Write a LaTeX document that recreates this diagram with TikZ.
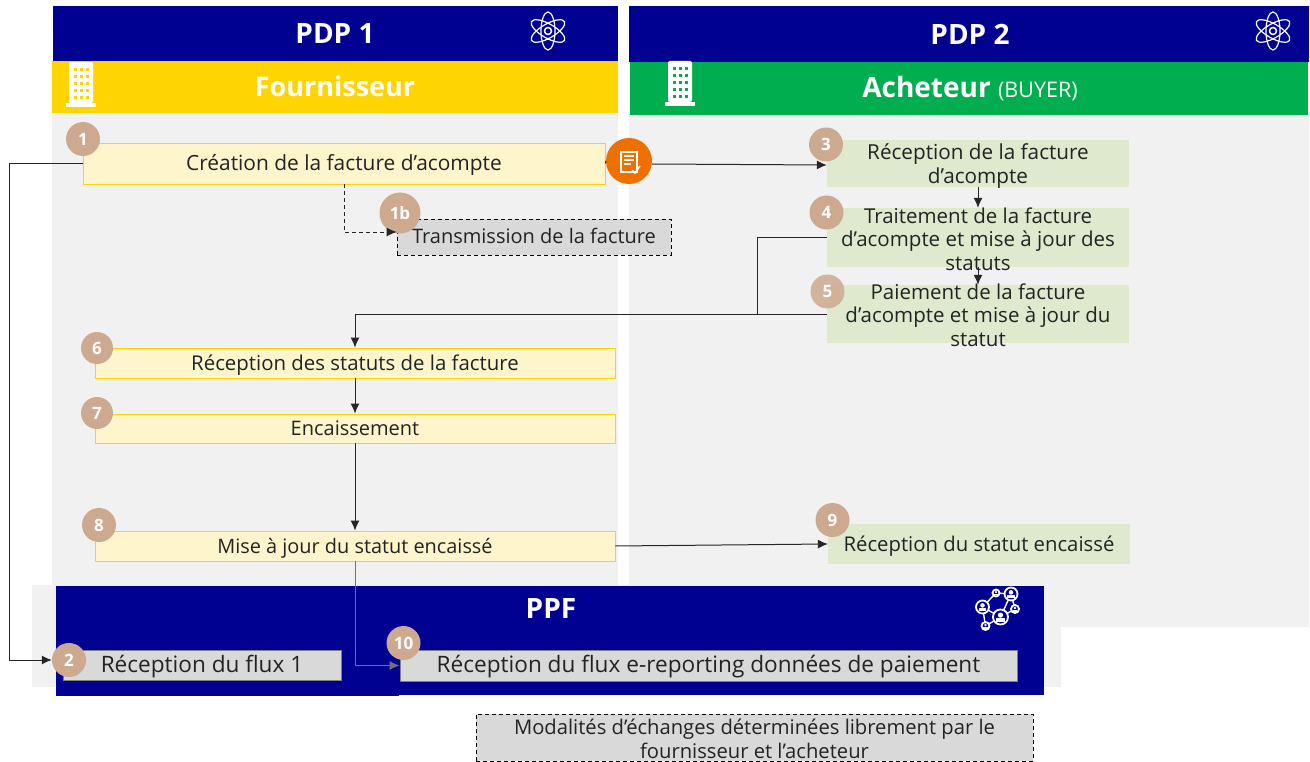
\documentclass[tikz,border=0pt]{standalone}
\usepackage{fontspec}
\setmainfont{Open Sans}
\usetikzlibrary{arrows.meta,positioning,shapes.geometric}
\definecolor{navyband}{RGB}{0,0,145}
\definecolor{yellowband}{RGB}{255,213,0}
\definecolor{greenband}{RGB}{0,174,80}
\definecolor{panelgray}{RGB}{241,241,241}
\definecolor{yellowcell}{RGB}{255,245,204}
\definecolor{greencell}{RGB}{222,233,206}
\definecolor{graycell}{RGB}{217,217,217}
\definecolor{badgetan}{RGB}{205,169,143}
\definecolor{orangeflux}{RGB}{238,113,0}
\definecolor{inktext}{RGB}{35,35,35}
\tikzset{panel/.style={fill=panelgray,draw=none,inner sep=0,anchor=north west},
    band/.style={draw=none,inner sep=0,anchor=north west},
    bandtext/.style={text=white,font=\fontsize{28}{30}\selectfont\bfseries},
    cellsize/.style={font=\fontsize{#1}{23.5}\selectfont},
    celltext/.style={text=inktext,text height=16pt,text depth=2pt},
    yellowbox/.style={draw=yellowband,fill=yellowcell,inner sep=0,line width=0.9pt,celltext},
    greenbox/.style={draw=none,fill=greencell,inner sep=0,celltext},
    graybox/.style={draw=gray,fill=graycell,inner sep=0,line width=0.9pt,celltext},
    dashbox/.style={draw=black,dash pattern=on 4pt off 3pt,fill=graycell,inner sep=0,line width=0.8pt,celltext},
    boxtext/.style={inner sep=0,align=center,text=inktext},
    badge/.style={circle,fill=badgetan,text=white,inner sep=0,minimum size=34pt,font=\fontsize{17}{20}\selectfont\bfseries},
    wire/.style={line width=1pt,draw=black!85},
    link/.style={wire,-{Latex[length=10pt,width=9pt]}},
    atomicon/.pic={
        \draw [white,line width=1.2pt] (0,0) ellipse [x radius=19,y radius=7,rotate=90];
        \draw [white,line width=1.2pt] (0,0) ellipse [x radius=19,y radius=7,rotate=30];
        \draw [white,line width=1.2pt] (0,0) ellipse [x radius=19,y radius=7,rotate=-30];
        \draw [white,line width=1.5pt] (0,0) circle [radius=3.5];},
    netperson/.pic={
        \draw [white,line width=1.8pt,fill=navyband] (0,0) circle [radius=#1];
        \fill [white] (0,-0.25*#1) circle [radius=0.35*#1];
        \fill [white] (-0.6*#1,0.65*#1) rectangle (0.6*#1,0.15*#1);}}
% building icon, the argument is the colour of the windows
\newcommand{\buildingicon}[2]{
\begin{scope}[shift={(#1)}]
\fill [white,rounded corners=2pt] (3,0) -- (27,0) -- (27,41) -- (3,41) -- cycle;
\fill [white] (0,41) rectangle (30,45);
\draw [#2,line width=3pt,dash pattern=on 3pt off 4pt] (9,6) -- (9,40);
\draw [#2,line width=3pt,dash pattern=on 3pt off 4pt] (15,6) -- (15,40);
\draw [#2,line width=3pt,dash pattern=on 3pt off 4pt] (21,6) -- (21,40);
\end{scope}}

\begin{document}
\begin{tikzpicture}[x=1pt,y=-1pt]
\useasboundingbox (0,0) rectangle (1310,762);

% gray backgrounds
\node [panel,minimum width=566pt,minimum height=472pt] (leftpanel) at (52,113) {};
\node [panel,minimum width=680pt,minimum height=512pt] (rightpanel) at (629,115) {};
\node [panel,minimum width=1029pt,minimum height=102pt] (lowpanel) at (32,585) {};

% bands
\node [band,fill=navyband,minimum width=565pt,minimum height=55pt] (pdpA) at (53,6) {};
\node [band,fill=navyband,minimum width=680pt,minimum height=56pt] (pdpB) at (629,6) {};
\node [band,fill=yellowband,minimum width=566pt,minimum height=52pt] (fourn) at (52,61) {};
\node [band,fill=greenband,minimum width=678pt,minimum height=53pt] (achet) at (630,62) {};
\node [band,fill=navyband,minimum width=988pt,minimum height=109pt] (ppf) at (56,586) {};
\node [band,fill=navyband,minimum width=343pt,minimum height=110pt] (ppfleft) at (56,586) {};

\node [bandtext] (pdpAtext) at (335,34) {PDP 1};
\node [bandtext] (pdpBtext) at (970,34) {PDP 2};
\node [bandtext] (fourntext) at (335,86) {\fontsize{27}{30}\selectfont Fournisseur};
\node [bandtext] (achettext) at (970,89) {Acheteur {\fontsize{21.5}{24}\selectfont\mdseries (BUYER)}};
\node [bandtext] (ppftext) at (551,609) {PPF};

% icons
\pic at (548,31) {atomicon};
\pic at (1273,31) {atomicon};
\buildingicon{66,62}{yellowband}
\buildingicon{665,61}{greenband}
\draw [white,line width=1.4pt] (982.5,607) -- (996,593) -- (1011,594) -- (1015,609) -- (1000.5,617) -- (982.5,607) -- (985.5,626) -- (1000.5,617) -- (1011,594);
\pic at (982.5,607) {netperson=6.5};
\pic at (1011,594) {netperson=6.5};
\pic at (1000.5,617) {netperson=7.5};
\pic at (996,593) {netperson=3.5};
\pic at (1015,609) {netperson=4};
\pic at (985.5,626) {netperson=4};

% supplier steps
\node [yellowbox,cellsize=20.9,minimum width=522pt,minimum height=41pt] (b1) at (344,163.5) {Création de la facture d’acompte};
\node [badge] (n1) at (83,139) {1};
\node [dashbox,cellsize=20,minimum width=274pt,minimum height=36pt] (b1b) at (534,237) {Transmission de la facture};
\node [badge,minimum size=41pt] (n1b) at (400,213) {1b};
\node [yellowbox,cellsize=20.4,minimum width=520pt,minimum height=30pt] (b6) at (355,363) {Réception des statuts de la facture};
\node [badge,minimum size=32pt] (n6) at (97,348) {6};
\node [yellowbox,cellsize=20,minimum width=520pt,minimum height=29pt] (b7) at (355,428.5) {Encaissement};
\node [badge,minimum size=32pt] (n7) at (97,413) {7};
\node [yellowbox,cellsize=19.9,minimum width=520pt,minimum height=30pt] (b8) at (355,546) {Mise à jour du statut encaissé};
\node [badge] (n8) at (99,525) {8};

% buyer steps
\node [greenbox,minimum width=302pt,minimum height=47pt] (b3) at (978,163.5) {};
\node [boxtext,cellsize=20.7] (t3) at (978,166) {Réception de la facture\\d’acompte};
\node [badge] (n3) at (826,144.5) {3};
\node [greenbox,minimum width=302pt,minimum height=59pt] (b4) at (978,237.5) {};
\node [boxtext,cellsize=20.5] (t4) at (978,239) {Traitement de la facture\\d’acompte et mise à jour des\\statuts};
\node [badge] (n4) at (826.5,212.5) {4};
\node [greenbox,minimum width=302pt,minimum height=58pt] (b5) at (978,314) {};
\node [boxtext,cellsize=20.5] (t5) at (978,315) {Paiement de la facture\\d’acompte et mise à jour du\\statut};
\node [badge,fill opacity=.85,text opacity=1] (n5) at (827.5,291.5) {5};
\node [greenbox,cellsize=20.3,minimum width=302pt,minimum height=40pt] (b9) at (979,544) {Réception du statut encaissé};
\node [badge] (n9) at (832.5,520) {9};

% flux to the public portal
\node [graybox,cellsize=22.6,minimum width=278pt,minimum height=30pt] (b2) at (202,665) {Réception du flux 1};
\node [badge] (n2) at (69,660) {2};
\node [graybox,cellsize=22.6,minimum width=617pt,minimum height=31pt] (b10) at (708.5,665.5) {Réception du flux e-reporting données de paiement};
\node [badge] (n10) at (403.5,643) {10};

\node [dashbox,minimum width=557pt,minimum height=47pt] (legend) at (754.5,737.5) {};
\node [boxtext,cellsize=20.2] (tlegend) at (754.5,739) {Modalités d’échanges déterminées librement par le\\fournisseur et l’acheteur};

% invoice token
\node [circle,fill=orangeflux,inner sep=0,minimum size=46pt] (token) at (629,161) {};
\draw [white,line width=1.5pt,fill=orangeflux] (621,152) rectangle (637,172);
\draw [white,line width=1.2pt] (624,156) -- (634,156);
\draw [white,line width=1.2pt] (624,160) -- (634,160);
\draw [white,line width=1.2pt] (624,164) -- (631,164);
\draw [white,line width=1.5pt] (632,170) -- (635,173) -- (640,166);

% connectors
\coordinate (elbowA) at (9,163.5);
\coordinate (elbowB) at (9,660);
\draw [link] (b1.west) -- (elbowA) -- (elbowB) -- (n2.west);
\draw [wire] (b1.east) -- (token.west);
\draw [link] (token.east |- 0,164) -- (b3.west |- 0,165);
\draw [link,line width=0.8pt,dash pattern=on 4pt off 3pt] (b1.south -| 344,0) -- (344,232) -- (b1b.west |- 0,232);
\draw [link] (b3.south) -- (b4.north);
\draw [link] (b4.south) -- (b5.north);
\coordinate (elbowC) at (757,237.5);
\coordinate (elbowD) at (757,314);
\coordinate (elbowE) at (355,314);
\draw [wire] (b4.west) -- (elbowC) -- (elbowD);
\draw [link] (b5.west) -- (elbowE) -- (b6.north);
\draw [link] (b6.south) -- (b7.north);
\draw [link] (b7.south) -- (b8.north);
\draw [link] (b8.east) -- (b9.west);
\draw [link,draw=gray!90!black] (b8.south) |- (b10.west);

\end{tikzpicture}
\end{document}
